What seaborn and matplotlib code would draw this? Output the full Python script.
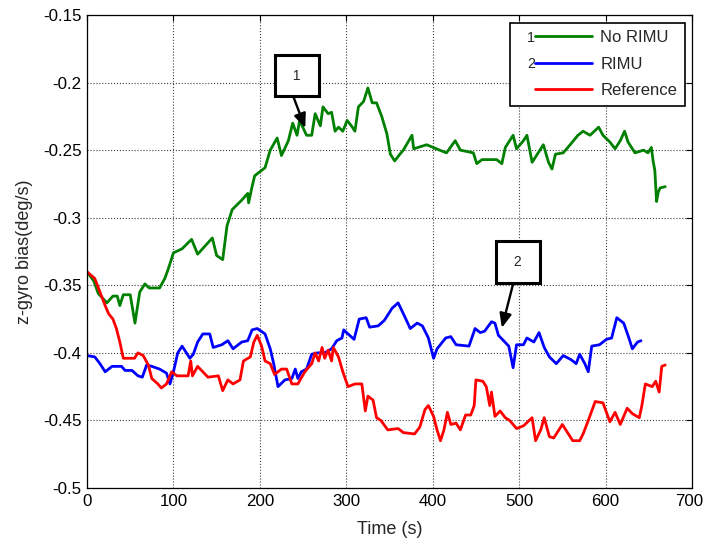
import matplotlib
matplotlib.use("Agg")
import matplotlib.pyplot as plt
import matplotlib.transforms as mtransforms
from matplotlib.lines import Line2D
from matplotlib.text import Text
from matplotlib.legend_handler import HandlerBase
import seaborn as sns
import pandas as pd

# ---- data ----
series_names = ["No RIMU", "RIMU", "Reference"]
legend_numbers = ["1", "2", ""]

g_t = [0, 8, 13, 23, 30, 35, 38, 42, 50, 55.5, 61, 67, 72, 84, 90, 94, 100, 110, 121, 128,
       145, 150, 157, 162, 168, 179, 186, 187, 191, 194, 206, 212, 220, 225, 233, 238, 243, 246, 254, 260,
       264, 270, 273, 279, 283, 287, 291, 296, 301, 307, 310, 314, 320, 325, 330, 335, 341, 347, 351, 356,
       362, 366, 376, 378, 393, 408, 416, 426, 432, 447, 451, 457, 474, 480, 484, 493, 497, 505, 509, 515,
       522, 528, 534, 538, 542, 551, 559, 568, 574, 582, 592, 597, 605, 611, 617, 622, 626, 634, 644, 649,
       653, 655, 657, 659, 661, 663, 669]
g_v = [-0.340, -0.347, -0.356, -0.363, -0.358, -0.358, -0.365, -0.357, -0.357, -0.378,
       -0.355, -0.349, -0.352, -0.352, -0.345, -0.338, -0.326, -0.323, -0.316, -0.327,
       -0.315, -0.328, -0.331, -0.306, -0.294, -0.287, -0.282, -0.289, -0.277, -0.269,
       -0.263, -0.250, -0.241, -0.254, -0.243, -0.230, -0.239, -0.228, -0.239, -0.239,
       -0.223, -0.232, -0.218, -0.223, -0.222, -0.236, -0.233, -0.236, -0.228, -0.233,
       -0.236, -0.218, -0.214, -0.204, -0.215, -0.215, -0.225, -0.238, -0.253, -0.258,
       -0.253, -0.250, -0.239, -0.249, -0.246, -0.250, -0.252, -0.243, -0.250, -0.252,
       -0.260, -0.257, -0.257, -0.260, -0.248, -0.239, -0.249, -0.243, -0.239, -0.259,
       -0.252, -0.246, -0.259, -0.264, -0.253, -0.252, -0.246, -0.239, -0.236, -0.239,
       -0.233, -0.239, -0.244, -0.249, -0.243, -0.236, -0.244, -0.252, -0.250, -0.252,
       -0.248, -0.258, -0.265, -0.288, -0.281, -0.278, -0.277]

b_t = [0, 9, 15, 21, 29, 40, 44, 52, 59, 64, 69, 75, 84, 92, 96, 100, 105, 110, 113, 119,
       123, 128, 134, 142, 146, 156, 163, 169, 179, 186, 191, 197, 206, 212, 216, 221, 229, 237, 241, 244,
       248, 254, 260, 267, 275, 283, 289, 295, 297, 302, 309, 315, 323, 327, 337, 344, 353, 360, 366, 374,
       382, 388, 395, 401, 405, 415, 421, 427, 442, 449, 455, 460, 468, 472, 476, 482, 488, 493, 497, 505,
       509, 517, 523, 529, 535, 543, 551, 560, 566, 570, 576, 580, 584, 593, 601, 607, 613, 621, 627, 631,
       637, 641]
b_v = [-0.402, -0.403, -0.408, -0.414, -0.410, -0.410, -0.413, -0.413, -0.417, -0.418,
       -0.409, -0.410, -0.412, -0.415, -0.423, -0.414, -0.400, -0.395, -0.398, -0.404,
       -0.401, -0.392, -0.386, -0.386, -0.396, -0.394, -0.391, -0.397, -0.392, -0.391,
       -0.383, -0.382, -0.386, -0.397, -0.408, -0.425, -0.420, -0.419, -0.412, -0.419,
       -0.414, -0.412, -0.401, -0.400, -0.400, -0.397, -0.391, -0.389, -0.383, -0.386,
       -0.390, -0.375, -0.374, -0.381, -0.380, -0.376, -0.367, -0.363, -0.371, -0.382,
       -0.378, -0.380, -0.389, -0.404, -0.397, -0.389, -0.388, -0.394, -0.395, -0.382,
       -0.385, -0.384, -0.377, -0.378, -0.387, -0.391, -0.395, -0.411, -0.394, -0.394,
       -0.389, -0.392, -0.385, -0.396, -0.403, -0.408, -0.402, -0.405, -0.408, -0.401,
       -0.408, -0.414, -0.395, -0.394, -0.390, -0.389, -0.374, -0.378, -0.389, -0.397,
       -0.392, -0.391]

r_t = [0, 9, 15, 21, 25, 30, 34, 38, 42, 55, 59, 65, 71, 75, 82, 86, 92, 98, 104, 117,
       120, 122, 128, 134, 140, 152, 157, 163, 169, 177, 181, 189, 193, 197, 202, 206, 212, 217, 225, 231,
       237, 244, 252, 260, 264, 268, 272, 275, 279, 283, 285, 291, 296, 302, 310, 318, 322, 325, 331, 335,
       340, 348, 360, 366, 379, 385, 391, 395, 401, 405, 409, 413, 417, 421, 427, 432, 438, 444, 448, 450,
       458, 462, 466, 468, 472, 478, 484, 489, 497, 505, 515, 519, 525, 529, 535, 540, 550, 556, 562, 570,
       574, 580, 588, 597, 605, 611, 617, 625, 631, 639, 642, 646, 654, 658, 662, 665, 669]
r_v = [-0.340, -0.345, -0.355, -0.365, -0.371, -0.375, -0.382, -0.392, -0.404, -0.404,
       -0.400, -0.402, -0.409, -0.419, -0.423, -0.426, -0.423, -0.414, -0.417, -0.417,
       -0.406, -0.417, -0.410, -0.414, -0.418, -0.417, -0.428, -0.420, -0.423, -0.420,
       -0.406, -0.403, -0.392, -0.387, -0.395, -0.406, -0.408, -0.416, -0.412, -0.412,
       -0.423, -0.423, -0.414, -0.408, -0.400, -0.406, -0.396, -0.404, -0.398, -0.406,
       -0.396, -0.403, -0.414, -0.425, -0.423, -0.423, -0.443, -0.432, -0.435, -0.448,
       -0.450, -0.457, -0.456, -0.459, -0.460, -0.455, -0.442, -0.439, -0.447, -0.457,
       -0.465, -0.457, -0.444, -0.453, -0.452, -0.457, -0.446, -0.446, -0.439, -0.420,
       -0.421, -0.425, -0.439, -0.429, -0.447, -0.443, -0.448, -0.450, -0.456, -0.454,
       -0.448, -0.465, -0.457, -0.448, -0.462, -0.463, -0.453, -0.459, -0.465, -0.465,
       -0.460, -0.450, -0.436, -0.437, -0.451, -0.444, -0.453, -0.441, -0.445, -0.448,
       -0.439, -0.423, -0.425, -0.421, -0.429, -0.410, -0.409]

x_ticks = [0, 100, 200, 300, 400, 500, 600, 700]
y_ticks = [-0.5, -0.45, -0.4, -0.35, -0.3, -0.25, -0.2, -0.15]
y_tick_labels = ["-0.5", "-0.45", "-0.4", "-0.35", "-0.3", "-0.25", "-0.2", "-0.15"]

# annotations: label, box centre (t, value), arrow start and tip (t, value)
ann_labels = ["1", "2"]
ann_box = [(243, -0.1948), (498.5, -0.3328)]
ann_start = [(238.5, -0.2100), (493, -0.3490)]
ann_tip = [(252.5, -0.2336), (480, -0.3815)]

colors = {"No RIMU": "#008000", "RIMU": "#0000ff", "Reference": "#ff0000"}

# ---- build table ----
df = pd.concat([
    pd.DataFrame({"t": g_t, "v": g_v, "series": "No RIMU"}),
    pd.DataFrame({"t": b_t, "v": b_v, "series": "RIMU"}),
    pd.DataFrame({"t": r_t, "v": r_v, "series": "Reference"}),
], ignore_index=True)

sns.set_style("white")
plt.rcParams["font.family"] = ["Liberation Sans", "DejaVu Sans"]

fig = plt.figure(figsize=(7.04, 5.42), dpi=100)
ax = fig.add_axes([87 / 704, 54 / 542, 605 / 704, 473 / 542])

sns.lineplot(data=df, x="t", y="v", hue="series", hue_order=series_names,
             palette=colors, estimator=None, sort=False, linewidth=2.0,
             legend=False, ax=ax)

ax.set_xlim(0, 700)
ax.set_ylim(-0.5, -0.15)
ax.set_xticks(x_ticks)
ax.set_yticks(y_ticks)
ax.set_yticklabels(y_tick_labels)
ax.tick_params(direction="in", top=True, right=True, length=4, width=0.8,
               labelsize=12.2, colors="black", pad=4)
ax.grid(True, linestyle=":", color="0.25", linewidth=0.8)
for s in ax.spines.values():
    s.set_color("black")
    s.set_linewidth(0.9)

# keep the last x tick label ("700") inside the figure, as in the reference
last_lab = ax.get_xticklabels()[-1]
last_lab.set_transform(last_lab.get_transform() +
                       mtransforms.ScaledTranslation(-3 / 100, 0, fig.dpi_scale_trans))

ax.set_xlabel("Time (s)", fontsize=13, labelpad=9)
ax.set_ylabel("z-gyro bias(deg/s)", fontsize=13, labelpad=7)


# legend handler: small number glued to the left of the line sample (MATLAB style)
class NumberedLineHandler(HandlerBase):
    def __init__(self, number):
        super().__init__()
        self.number = number

    def create_artists(self, legend, orig_handle, xdescent, ydescent,
                       width, height, fontsize, trans):
        gap = 0.24 * width
        y = height / 2 - ydescent
        x0 = -xdescent
        line = Line2D([x0 + gap, x0 + width], [y, y], color=orig_handle.get_color(),
                      lw=orig_handle.get_linewidth(), transform=trans)
        arts = [line]
        if self.number:
            arts.append(Text(x0 + gap, y, self.number, fontsize=fontsize * 0.85,
                             ha="right", va="center_baseline", transform=trans,
                             family=["Liberation Sans", "DejaVu Sans"]))
        return arts


handles = [Line2D([], [], color=colors[n], lw=2.0) for n in series_names]
handler_map = {h: NumberedLineHandler(num) for h, num in zip(handles, legend_numbers)}
leg = ax.legend(handles, series_names, loc="upper right", fontsize=12,
                frameon=True, fancybox=False, edgecolor="black", framealpha=1,
                handlelength=4.5, handletextpad=0.48, labelspacing=0.7,
                borderaxespad=0.45, borderpad=0.45, handler_map=handler_map)
leg.get_frame().set_linewidth(1.2)
leg.set_zorder(5)

# annotation boxes and arrows
for lab, (bx, by), (sx, sy), (tx, ty) in zip(ann_labels, ann_box, ann_start, ann_tip):
    ax.text(bx, by, " " + lab + " ", fontsize=10, ha="center", va="center", zorder=7,
            bbox=dict(boxstyle="square,pad=1.0", fc="white", ec="black", lw=2.2))
    ax.annotate("", xy=(tx, ty), xytext=(sx, sy), zorder=7,
                arrowprops=dict(arrowstyle="-|>,head_length=0.85,head_width=0.36",
                                color="black", lw=1.7, shrinkA=0, shrinkB=0))

fig.savefig("out.png", dpi=100)
